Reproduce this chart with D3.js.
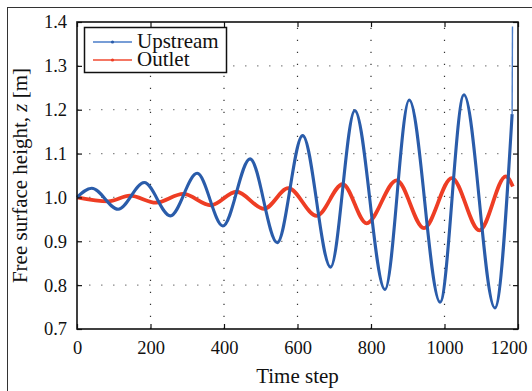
<!DOCTYPE html>
<html>
<meta charset="utf-8">
<head>
  <title>Free surface height</title>
</head>

<style>
body { margin: 0; background: #fff; }
text { font-family: "Liberation Serif", "DejaVu Serif", serif; fill: #111; }
</style>

<body>
  <div id="content">
    <svg width="532" height="391"></svg>
  </div>

<script src="https://d3js.org/d3.v7.min.js"></script>
<script>
// values (peaks / troughs of each trace)
var upT = [0, 40, 112, 183, 254, 327, 397, 471, 545, 614, 690, 756, 838, 904, 988, 1053, 1137, 1184, 1185]
var upV = [1.000, 1.021, 0.973, 1.034, 0.958, 1.055, 0.935, 1.088, 0.897, 1.141, 0.841, 1.198, 0.790, 1.222, 0.761, 1.234, 0.748, 1.19, 1.39]

var outT = [0, 85, 144, 215, 289, 364, 434, 509, 575, 652, 723, 788, 870, 944, 1020, 1095, 1167, 1186]
var outV = [1.000, 0.991, 1.004, 0.988, 1.008, 0.982, 1.013, 0.974, 1.021, 0.958, 1.030, 0.941, 1.039, 0.930, 1.044, 0.925, 1.048, 1.025]

var xTicks = [0, 200, 400, 600, 800, 1000, 1200]
var yTicks = [0.7, 0.8, 0.9, 1.0, 1.1, 1.2, 1.3, 1.4]

var seriesNames = ['Upstream', 'Outlet']
var colors = ['#2a5caa', '#ee3d24']

// note: "top" is taken by window.top, so plain names are avoided
var plotL = 77, plotR = 518, plotT = 22, plotB = 329

var svg = d3.select('svg')

// outer figure frame
svg.append('rect')
  .attr('x', 7.5).attr('y', 7.5)
  .attr('width', 600).attr('height', 500)
  .attr('fill', 'none').attr('stroke', '#333').attr('stroke-width', 1)

var x = d3.scaleLinear().domain([0, 1200]).range([plotL, plotR])
var y = d3.scaleLinear().domain([0.7, 1.4]).range([plotB, plotT])

// dotted grid
var grid = svg.append('g')
grid.selectAll('.gx')
  .data(xTicks.slice(1, -1))
  .enter().append('line')
  .attr('x1', function(d) { return x(d) }).attr('x2', function(d) { return x(d) })
  .attr('y1', plotB).attr('y2', plotT)
  .attr('stroke', '#333').attr('stroke-width', 1.2)
  .attr('stroke-dasharray', '1.3,10.7')
grid.selectAll('.gy')
  .data(yTicks.slice(1, -1))
  .enter().append('line')
  .attr('x1', plotL).attr('x2', plotR)
  .attr('y1', function(d) { return y(d) }).attr('y2', function(d) { return y(d) })
  .attr('stroke', '#888').attr('stroke-width', 1.3)
  .attr('stroke-dasharray', '1.5,10.5')

// traces
var line = d3.line()
  .x(function(d) { return x(d[0]) })
  .y(function(d) { return y(d[1]) })
  .curve(d3.curveMonotoneX)

var up = d3.zip(upT, upV)
var out = d3.zip(outT, outV)

svg.append('path')
  .datum(out)
  .attr('d', line)
  .attr('fill', 'none').attr('stroke', colors[1]).attr('stroke-width', 3.8)

svg.append('path')
  .datum(up.slice(0, -1))
  .attr('d', line)
  .attr('fill', 'none').attr('stroke', colors[0]).attr('stroke-width', 3.1)

// last jump of the upstream trace is a single step, drawn thin
svg.append('path')
  .datum(up.slice(-2))
  .attr('d', d3.line().x(function(d) { return x(d[0]) }).y(function(d) { return y(d[1]) }))
  .attr('fill', 'none').attr('stroke', '#4a7cc8').attr('stroke-width', 1.4)

// axes
var xAxis = svg.append('g')
  .attr('transform', 'translate(0,' + plotB + ')')
  .call(d3.axisBottom(x).tickValues(xTicks).tickFormat(d3.format('d')).tickSize(-5).tickPadding(12))
var yAxis = svg.append('g')
  .attr('transform', 'translate(' + plotL + ',0)')
  .call(d3.axisLeft(y).tickValues(yTicks).tickFormat(d3.format('.1f')).tickSize(-5).tickPadding(10))
var xTop = svg.append('g')
  .attr('transform', 'translate(0,' + plotT + ')')
  .call(d3.axisTop(x).tickValues(xTicks).tickFormat('').tickSize(-5))
var yRight = svg.append('g')
  .attr('transform', 'translate(' + plotR + ',0)')
  .call(d3.axisRight(y).tickValues(yTicks).tickFormat('').tickSize(-5))

;[xAxis, yAxis, xTop, yRight].forEach(function(a) {
  a.select('.domain').remove()
  a.selectAll('line').attr('stroke', '#111').attr('stroke-width', 1.2)
  a.selectAll('text')
    .style('font-family', '"Liberation Serif", serif')
    .style('font-size', '18.5px')
    .attr('fill', '#111')
})

// last x label is pulled inside the figure, as in the original
xAxis.selectAll('.tick text')
  .filter(function(d) { return d === 1200 })
  .attr('text-anchor', 'end')
  .attr('x', 9)

svg.append('rect')
  .attr('x', plotL).attr('y', plotT)
  .attr('width', plotR - plotL).attr('height', plotB - plotT)
  .attr('fill', 'none').attr('stroke', '#111').attr('stroke-width', 1.6)

// axis titles
svg.append('text')
  .attr('x', (plotL + plotR) / 2).attr('y', 383)
  .attr('text-anchor', 'middle')
  .style('font-size', '21px')
  .text('Time step')

var yt = svg.append('text')
  .attr('transform', 'translate(27,' + ((plotT + plotB) / 2) + ') rotate(-90)')
  .attr('text-anchor', 'middle')
  .style('font-size', '21px')
yt.append('tspan').text('Free surface height, ')
yt.append('tspan').style('font-style', 'italic').text('z')
yt.append('tspan').text(' [m]')

// legend
var lg = svg.append('g')
lg.append('rect')
  .attr('x', 84.5).attr('y', 27.5).attr('width', 142).attr('height', 45)
  .attr('fill', '#fff').attr('stroke', '#111').attr('stroke-width', 1.5)

var items = lg.selectAll('.item')
  .data(seriesNames)
  .enter().append('g')
  .attr('transform', function(d, i) { return 'translate(0,' + (42 + i * 18) + ')' })
items.append('line')
  .attr('x1', 93).attr('x2', 132)
  .attr('stroke', function(d, i) { return i ? '#f04a30' : '#4a7cc8' })
  .attr('stroke-width', 1.5)
items.append('circle')
  .attr('cx', 112.5).attr('r', 1.6)
  .attr('fill', function(d, i) { return colors[i] })
items.append('text')
  .attr('x', 137).attr('y', 6)
  .style('font-size', '21px')
  .text(function(d) { return d })
</script>
</body>
</html>
